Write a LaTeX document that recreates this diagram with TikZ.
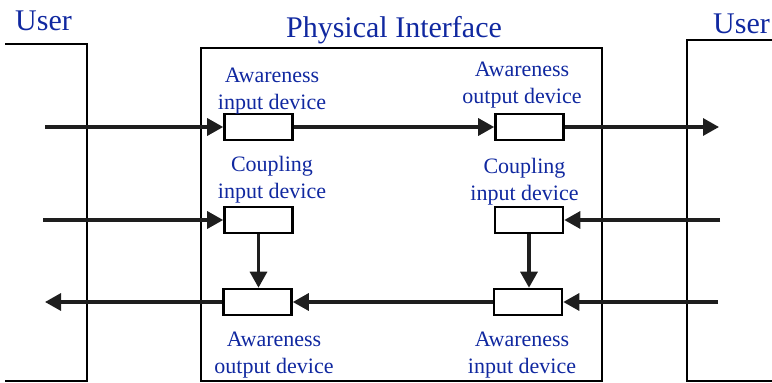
\documentclass[tikz,border=0pt]{standalone}
\usepackage{fontspec}
\setmainfont{Liberation Serif}
\usetikzlibrary{arrows.meta}
\definecolor{lblblue}{RGB}{16,40,160}
\definecolor{arrgray}{RGB}{30,30,30}
\tikzset{
  frame/.style={draw=black, line width=2.5pt},
  dev/.style={draw=black, fill=white, line width=2.6pt, minimum width=68pt, minimum height=26pt, inner sep=0pt},
  lbl/.style={text=lblblue, font=\fontsize{22}{27}\selectfont, align=center, anchor=base, inner sep=0pt},
  ttl/.style={text=lblblue, font=\fontsize{30}{36}\selectfont, anchor=base, inner sep=0pt},
  conn/.style={draw=arrgray, line width=3.2pt, -{Triangle[length=16pt,width=17pt]}},
  connr/.style={draw=arrgray, line width=3.2pt, {Triangle[length=16pt,width=17pt]}-},
}
\begin{document}
\begin{tikzpicture}[x=1pt,y=-1pt]
\useasboundingbox (0,0) rectangle (772,383);
% frames
\draw[frame] (5,44) -- (87,44) -- (87,381) -- (5,381);
\draw[frame] (775,40) -- (687,40) -- (687,381) -- (775,381);
\draw[frame] (201,48) rectangle (602,381);
% titles
\node[ttl] (userL) at (43.5,30) {User};
\node[ttl] (userR) at (741.5,33) {User};
\node[ttl] (phys) at (394,37) {Physical Interface};
% devices
\node[dev] (aiL) at (258.5,127) {};
\node[dev] (aoR) at (529.5,127) {};
\node[dev] (ciL) at (258.5,220) {};
\node[dev] (ciR) at (529,220) {};
\node[dev] (aoL) at (257.5,302) {};
\node[dev] (aiR) at (528,302) {};
% free ends
\coordinate (inA) at (45,127);
\coordinate (outA) at (719,127);
\coordinate (inC) at (43,220);
\coordinate (inCR) at (720,220);
\coordinate (outB) at (45,302);
\coordinate (inBR) at (718,302);
% connectors
\draw[conn] (inA) -- (aiL.west);
\draw[conn] (inC) -- (ciL.west);
\draw[conn] (inCR) -- (ciR.east);
\draw[conn] (inBR) -- (aiR.east);
\draw[conn] (aiL.east) -- (aoR.west);
\draw[conn] (aoR.east) -- (outA);
\draw[conn] (ciL.south) -- (ciL.south |- aoL.north);
\draw[conn] (ciR.south) -- (ciR.south |- aiR.north);
\draw[conn] (aiR.west) -- (aoL.east);
\draw[connr] (outB) -- (aoL.west);
% labels
\node[lbl] (l1) at (272,109) {Awareness\\input device};
\node[lbl] (l2) at (522,103.5) {Awareness\\output device};
\node[lbl] (l3) at (272,198) {Coupling\\input device};
\node[lbl] (l4) at (524.5,200) {Coupling\\input device};
\node[lbl] (l5) at (274,373) {Awareness\\output device};
\node[lbl] (l6) at (522,373) {Awareness\\input device};
\end{tikzpicture}
\end{document}
